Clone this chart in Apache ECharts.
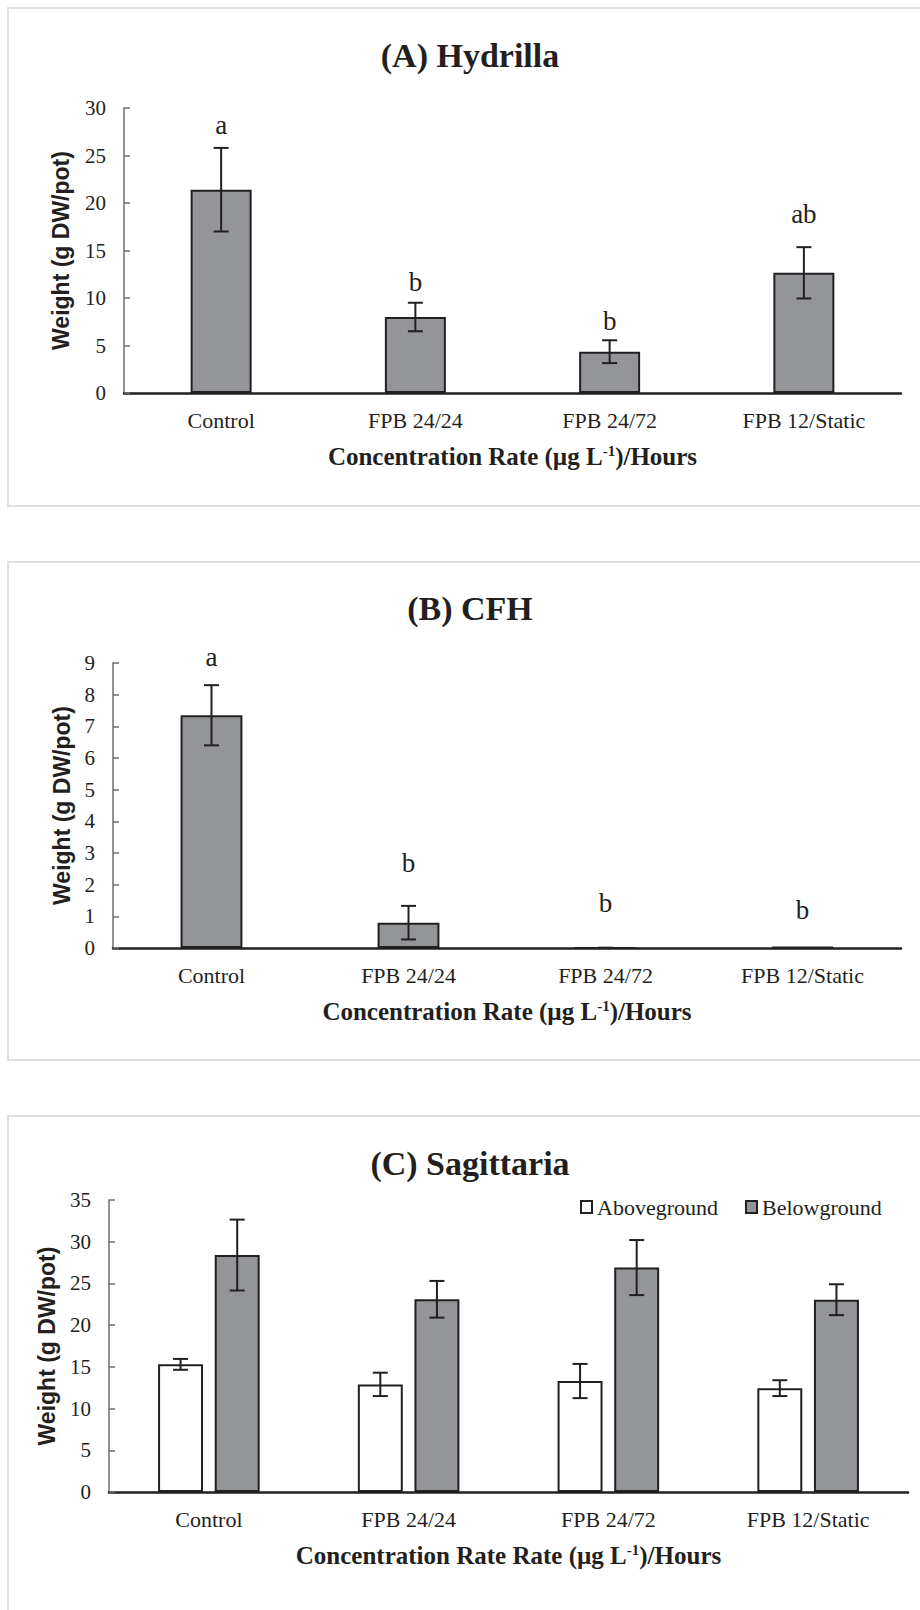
<!DOCTYPE html>
<html>
<head>
<meta charset="utf-8">
<script src="https://cdn.jsdelivr.net/npm/echarts@6/dist/echarts.min.js"></script>
<style>
  html, body { margin: 0; padding: 0; background: #fff; }
  #main { width: 920px; height: 1610px; }
</style>
</head>
<body>
<div id="main"></div>
<script>
// categories
var categories = ["Control", "FPB 24/24", "FPB 24/72", "FPB 12/Static"];

// (A) Hydrilla
var hydMean = [21.4, 8.0, 4.35, 12.65];
var hydErr = [4.4, 1.5, 1.2, 2.7];
var hydLetters = ["a", "b", "b", "ab"];
var hydLetterY = [28.2, 11.7, 7.6, 18.8];

// (B) CFH
var cfhMean = [7.35, 0.8, 0, 0.03];
var cfhErr = [0.95, 0.53, 0.01, 0];
var cfhLetters = ["a", "b", "b", "b"];
var cfhLetterY = [9.2, 2.68, 1.41, 1.19];

// (C) Sagittaria
var sagAbove = [15.3, 12.9, 13.3, 12.45];
var sagAboveErr = [0.65, 1.4, 2.05, 0.95];
var sagBelow = [28.4, 23.1, 26.9, 23.05];
var sagBelowErr = [4.25, 2.2, 3.3, 1.85];

var ink = "#231f20";
var barGray = "#939598";
var serif = "Liberation Serif";

var myChart = echarts.init(document.getElementById("main"), null, { renderer: "svg" });

function xAx(gridIndex, name) {
  return {
    type: "category",
    gridIndex: gridIndex,
    data: categories,
    axisLine: { lineStyle: { color: ink, width: 2.5 } },
    axisTick: { show: false },
    axisLabel: { margin: 16, fontFamily: serif, fontSize: 22, color: ink },
    name: name,
    nameLocation: "middle",
    nameGap: 50,
    nameTextStyle: {
      fontFamily: serif, fontSize: 25, fontWeight: "bold", color: ink, lineHeight: 27,
      rich: { s: { fontFamily: serif, fontSize: 15, fontWeight: "bold", color: ink, verticalAlign: "top", lineHeight: 15, padding: [0, 0, 12, 0] } }
    }
  };
}

function yAx(gridIndex, max, interval, gap) {
  return {
    type: "value",
    gridIndex: gridIndex,
    min: 0,
    max: max,
    interval: interval,
    splitLine: { show: false },
    axisLine: { show: true, lineStyle: { color: "#6d6e71", width: 1.5 } },
    axisTick: { show: true, inside: true, length: 6, lineStyle: { color: "#6d6e71", width: 1.5 } },
    axisLabel: { margin: 18, fontFamily: serif, fontSize: 21, color: ink },
    name: "Weight (g DW/pot)",
    nameLocation: "middle",
    nameRotate: 90,
    nameGap: gap,
    nameTextStyle: { fontFamily: "Liberation Sans", fontSize: 23, fontWeight: "bold", color: ink }
  };
}

// error bars drawn through the axis scale; offset is a fraction of the band width
function errSeries(idx, means, errs, shift) {
  return {
    type: "custom",
    xAxisIndex: idx,
    yAxisIndex: idx,
    z: 5,
    silent: true,
    data: means.map(function (m, i) { return [i, m, errs[i]]; }),
    renderItem: function (params, api) {
      var i = api.value(0), m = api.value(1), e = api.value(2);
      if (!e) return;
      var band = api.size([1, 0])[0];
      var x = api.coord([i, m])[0] + band * shift;
      var top = api.coord([i, m + e])[1];
      var bot = api.coord([i, Math.max(m - e, 0)])[1];
      var st = { stroke: ink, lineWidth: 2 };
      return {
        type: "group",
        children: [
          { type: "line", shape: { x1: x, y1: top, x2: x, y2: bot }, style: st },
          { type: "line", shape: { x1: x - 7.5, y1: top, x2: x + 7.5, y2: top }, style: st },
          { type: "line", shape: { x1: x - 7.5, y1: bot, x2: x + 7.5, y2: bot }, style: st }
        ]
      };
    }
  };
}

function letterSeries(idx, letters, ys) {
  return {
    type: "custom",
    xAxisIndex: idx,
    yAxisIndex: idx,
    silent: true,
    data: ys.map(function (y, i) { return [i, y]; }),
    renderItem: function (params, api) {
      var p = api.coord([api.value(0), api.value(1)]);
      return {
        type: "text",
        x: p[0], y: p[1],
        style: { text: letters[params.dataIndex], fill: ink, font: "27px 'Liberation Serif'", align: "center", verticalAlign: "middle" }
      };
    }
  };
}

var barStyle = { color: barGray, borderColor: ink, borderWidth: 2 };
var bw = 0.225, gapFrac = 0.26;
var grpShift = (bw + bw * gapFrac) / 2;

var option = {
  animation: false,
  backgroundColor: "#fff",
  graphic: [
    { type: "rect", shape: { x: 8, y: 8, width: 940, height: 498 }, style: { fill: "none", stroke: "#e0e0e0", lineWidth: 2 }, z: -10 },
    { type: "rect", shape: { x: 8, y: 562, width: 940, height: 498 }, style: { fill: "none", stroke: "#e0e0e0", lineWidth: 2 }, z: -10 },
    { type: "rect", shape: { x: 8, y: 1116, width: 940, height: 520 }, style: { fill: "none", stroke: "#e0e0e0", lineWidth: 2 }, z: -10 },
    { type: "text", x: 470, y: 55, style: { text: "(A) Hydrilla", fill: ink, font: "bold 34px 'Liberation Serif'", align: "center", verticalAlign: "middle" } },
    { type: "text", x: 470, y: 608, style: { text: "(B) CFH", fill: ink, font: "bold 34px 'Liberation Serif'", align: "center", verticalAlign: "middle" } },
    { type: "text", x: 470, y: 1163, style: { text: "(C) Sagittaria", fill: ink, font: "bold 34px 'Liberation Serif'", align: "center", verticalAlign: "middle" } }
  ],
  legend: {
    data: ["Aboveground", "Belowground"],
    left: 575,
    top: 1191,
    itemWidth: 11,
    itemHeight: 12,
    itemGap: 27,
    icon: "rect",
    textStyle: { fontFamily: serif, fontSize: 22, color: ink }
  },
  grid: [
    { left: 124, top: 108, width: 777, height: 285 },
    { left: 113, top: 663, width: 788, height: 285 },
    { left: 109, top: 1200, width: 799, height: 292 }
  ],
  xAxis: [
    xAx(0, "Concentration Rate (µg L{s|-1})/Hours"),
    xAx(1, "Concentration Rate (µg L{s|-1})/Hours"),
    xAx(2, "Concentration Rate Rate (µg L{s|-1})/Hours")
  ],
  yAxis: [
    yAx(0, 30, 5, 52),
    yAx(1, 9, 1, 39),
    yAx(2, 35, 5, 51)
  ],
  series: [
    { type: "bar", xAxisIndex: 0, yAxisIndex: 0, data: hydMean, barWidth: "31.4%", itemStyle: barStyle },
    errSeries(0, hydMean, hydErr, 0),
    letterSeries(0, hydLetters, hydLetterY),

    { type: "bar", xAxisIndex: 1, yAxisIndex: 1, data: cfhMean, barWidth: "31.4%", itemStyle: barStyle },
    errSeries(1, cfhMean, cfhErr, 0),
    letterSeries(1, cfhLetters, cfhLetterY),

    { name: "Aboveground", type: "bar", xAxisIndex: 2, yAxisIndex: 2, data: sagAbove, barWidth: "22.5%", barGap: "26%",
      itemStyle: { color: "#ffffff", borderColor: ink, borderWidth: 2 } },
    { name: "Belowground", type: "bar", xAxisIndex: 2, yAxisIndex: 2, data: sagBelow, barWidth: "22.5%", barGap: "26%",
      itemStyle: barStyle },
    errSeries(2, sagAbove, sagAboveErr, -grpShift),
    errSeries(2, sagBelow, sagBelowErr, grpShift)
  ]
};

myChart.setOption(option);
</script>
</body>
</html>
